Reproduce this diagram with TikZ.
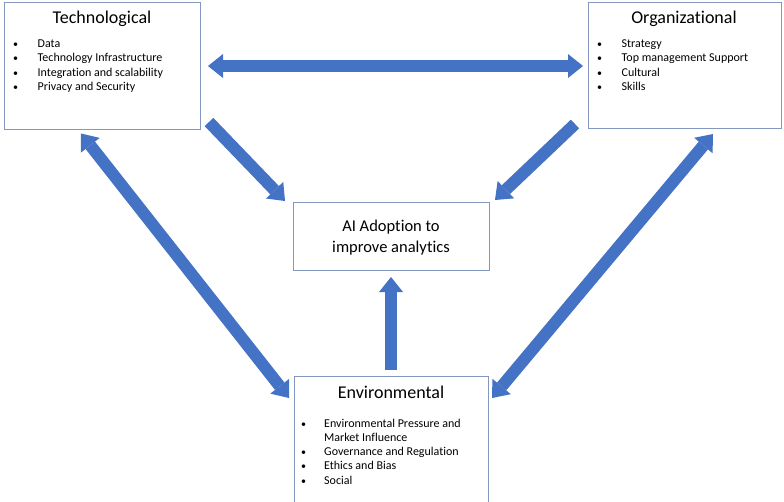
\documentclass[tikz,border=0pt]{standalone}
\usepackage{fontspec}
\setmainfont[Ligatures={NoCommon}]{Carlito}
\usetikzlibrary{arrows.meta}
\definecolor{boxline}{HTML}{8497C0}
\definecolor{arrowfill}{HTML}{4472C4}
\tikzset{
  framebox/.style={draw=boxline, line width=0.9pt},
  heading/.style={font=\fontsize{18}{21}\selectfont, anchor=base, inner sep=0pt},
  centertext/.style={font=\fontsize{16.5}{20}\selectfont, anchor=base, inner sep=0pt},
  item/.style={font=\fontsize{12}{14}\selectfont, anchor=base west, inner sep=0pt},
  dot/.style={font=\fontsize{10}{12}\selectfont, anchor=base west, inner sep=0pt},
  blockarrow/.style={draw=arrowfill, line width=12pt, line cap=butt,
    -{Triangle[length=15pt, width=24pt, line width'=0pt]}},
  blockarrows/.style={draw=arrowfill, line width=12pt, line cap=butt,
    {Triangle[length=15pt, width=24pt, line width'=0pt]}-{Triangle[length=15pt, width=24pt, line width'=0pt]}},
}
\begin{document}
\begin{tikzpicture}[x=1pt, y=-1pt]
  \useasboundingbox (0,0) rectangle (784,501);

  % Technological box
  \draw[framebox] (4,2) rectangle (200,129);
  \node[heading] (tech) at (102,23) {Technological};
  \foreach \t [count=\i] in {Data, Technology Infrastructure, Integration and scalability, Privacy and Security} {
    \node[dot] at (13,{47+14.6*(\i-1)}) {\textbullet};
    \node[item] at (37.5,{47+14.6*(\i-1)}) {\t};
  }

  % Organizational box
  \draw[framebox] (588,2) rectangle (781,128);
  \node[heading] (org) at (684,23) {Organizational};
  \foreach \t [count=\i] in {Strategy, Top management Support, Cultural, Skills} {
    \node[dot] at (597,{47+14.6*(\i-1)}) {\textbullet};
    \node[item] at (621.5,{47+14.6*(\i-1)}) {\t};
  }

  % Central outcome box
  \draw[framebox] (293,202) rectangle (489,270);
  \node[centertext] (ai1) at (391,231) {AI Adoption to};
  \node[centertext] (ai2) at (391,252) {improve analytics};

  % Environmental box (runs off the lower edge)
  \draw[framebox] (294,503) -- (294,376) -- (488,376) -- (488,503);
  \node[heading] (env) at (391,398) {Environmental};
  \foreach \t/\b/\y in {Environmental Pressure and/1/427, Market Influence/0/441.3, Governance and Regulation/1/455.6, Ethics and Bias/1/469.9, Social/1/484.2} {
    \ifnum\b=1 \node[dot] at (301,\y) {\textbullet}; \fi
    \node[item] at (324,\y) {\t};
  }

  % arrow end points
  \coordinate (techR) at (208,66);
  \coordinate (orgL)  at (583,66);
  \coordinate (techT) at (209,122);
  \coordinate (aiTL)  at (285,201);
  \coordinate (orgT)  at (575,124);
  \coordinate (aiTR)  at (495,200);
  \coordinate (techB) at (81,133.5);
  \coordinate (envTL) at (289,398);
  \coordinate (orgB)  at (713,134);
  \coordinate (envTR) at (492,398);
  \coordinate (envT)  at (391,370);
  \coordinate (aiB)   at (391,277);

  % arrows
  \draw[blockarrows] (techR) -- (orgL);
  \draw[blockarrow] (techT) -- (aiTL);
  \draw[blockarrow] (orgT) -- (aiTR);
  \draw[blockarrows] (techB) -- (envTL);
  \draw[blockarrows] (orgB) -- (envTR);
  \draw[blockarrow] (envT) -- (aiB);
\end{tikzpicture}
\end{document}
